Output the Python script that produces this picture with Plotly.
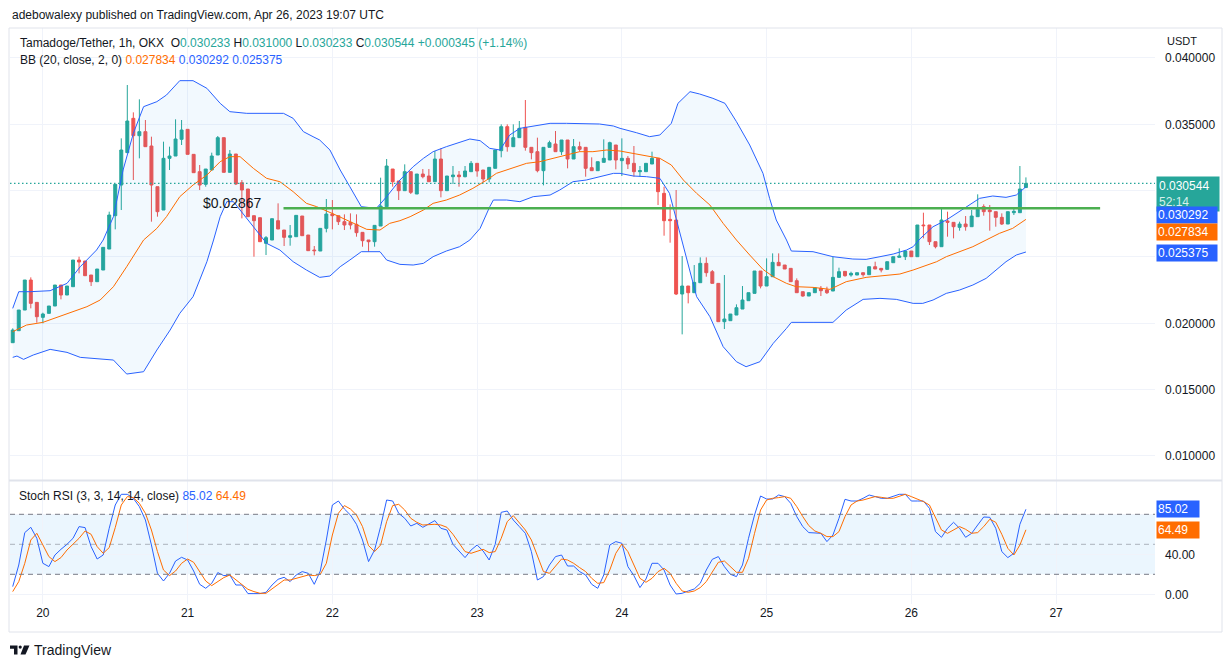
import plotly.graph_objects as go
from datetime import datetime, timedelta

# ---------------- DATA ----------------
open_ = [
    0.018539, 0.019443, 0.021001, 0.023263, 0.021579, 0.020449, 0.020750, 0.021303, 0.022886, 0.022132,
    0.022760, 0.024771, 0.024696, 0.023640, 0.023137, 0.024017, 0.025600, 0.028113, 0.030425, 0.032863,
    0.035451, 0.034144, 0.034446, 0.033365, 0.030299, 0.028540, 0.032436, 0.032611, 0.033868, 0.034622,
    0.032737, 0.031430, 0.030475, 0.031556, 0.032687, 0.033994, 0.031380, 0.032762, 0.030601, 0.030124,
    0.028113, 0.027962, 0.026027, 0.026279, 0.027736, 0.027033, 0.026480, 0.026530, 0.028088, 0.026656,
    0.025525, 0.025449, 0.027158, 0.028239, 0.028113, 0.027661, 0.027611, 0.027460, 0.026857, 0.026279,
    0.026153, 0.027334, 0.028792, 0.031631, 0.030727, 0.029998, 0.031430, 0.029747, 0.031254, 0.031104,
    0.030676, 0.032385, 0.029998, 0.031053, 0.031179, 0.031053, 0.031430, 0.032059, 0.031556, 0.030877,
    0.031682, 0.033014, 0.034823, 0.033315, 0.033994, 0.034773, 0.033265, 0.032938, 0.031506, 0.033265,
    0.033516, 0.032938, 0.033818, 0.032385, 0.033315, 0.033265, 0.031732, 0.031506, 0.032134, 0.032310,
    0.033441, 0.032260, 0.032436, 0.032059, 0.031430, 0.031430, 0.032008, 0.032436, 0.029797, 0.027837,
    0.027786, 0.022208, 0.022811, 0.022308, 0.023062, 0.024520, 0.023891, 0.023012, 0.020122, 0.020197,
    0.020624, 0.021077, 0.021705, 0.022258, 0.023942, 0.022811, 0.023514, 0.024595, 0.024394, 0.024143,
    0.023213, 0.022384, 0.022057, 0.022308, 0.022635, 0.022509, 0.022434, 0.023464, 0.023916, 0.023640,
    0.023640, 0.023816, 0.023665, 0.024268, 0.024143, 0.024067, 0.024570, 0.024972, 0.025022, 0.025449,
    0.025022, 0.027410, 0.027410, 0.026153, 0.025776, 0.027711, 0.027611, 0.027234, 0.027485, 0.027284,
    0.028038, 0.028792, 0.028540, 0.028415, 0.027988, 0.027485, 0.028339, 0.028339, 0.030233,
]
high = [
    0.019619, 0.021001, 0.023263, 0.023464, 0.021579, 0.020800, 0.021303, 0.022886, 0.022886, 0.022811,
    0.024771, 0.025022, 0.024696, 0.023640, 0.024092, 0.025726, 0.028415, 0.030475, 0.033943, 0.037964,
    0.035903, 0.036884, 0.035325, 0.034069, 0.030299, 0.033692, 0.033315, 0.035376, 0.035325, 0.034622,
    0.032737, 0.031933, 0.031631, 0.032863, 0.034119, 0.033994, 0.033064, 0.032762, 0.030802, 0.030124,
    0.028113, 0.027962, 0.026580, 0.027887, 0.029043, 0.027033, 0.027410, 0.028138, 0.028088, 0.026656,
    0.025826, 0.027158, 0.029370, 0.029294, 0.028113, 0.028214, 0.028289, 0.028214, 0.026857, 0.026279,
    0.027384, 0.030978, 0.032385, 0.031631, 0.030727, 0.031983, 0.031430, 0.031254, 0.031631, 0.031631,
    0.032988, 0.033189, 0.031104, 0.031858, 0.031481, 0.031858, 0.032235, 0.032059, 0.031556, 0.031757,
    0.033064, 0.034999, 0.034999, 0.034999, 0.035250, 0.036833, 0.033265, 0.033994, 0.033265, 0.033767,
    0.034496, 0.033818, 0.033818, 0.033893, 0.033692, 0.033265, 0.032511, 0.032184, 0.033868, 0.033692,
    0.033441, 0.033943, 0.032611, 0.033365, 0.031858, 0.032059, 0.032938, 0.032436, 0.030299, 0.028968,
    0.030048, 0.025072, 0.022811, 0.024394, 0.024972, 0.024972, 0.024017, 0.023012, 0.023640, 0.020700,
    0.021429, 0.022811, 0.022308, 0.023942, 0.023942, 0.024897, 0.025273, 0.025273, 0.024394, 0.024143,
    0.023389, 0.022384, 0.022308, 0.022685, 0.022811, 0.022760, 0.025022, 0.024193, 0.023916, 0.023891,
    0.023816, 0.023816, 0.024268, 0.024645, 0.024143, 0.024645, 0.025022, 0.025650, 0.025449, 0.025449,
    0.027410, 0.028339, 0.027410, 0.026153, 0.028666, 0.028415, 0.027611, 0.027661, 0.028088, 0.028540,
    0.029722, 0.028968, 0.028917, 0.028415, 0.028289, 0.028415, 0.028666, 0.031858, 0.031000,
]
low = [
    0.018539, 0.019443, 0.021001, 0.021127, 0.020046, 0.019996, 0.020750, 0.021303, 0.021806, 0.022132,
    0.022760, 0.023766, 0.023590, 0.022811, 0.023137, 0.024017, 0.025600, 0.027083, 0.028540, 0.032863,
    0.030802, 0.032436, 0.033315, 0.027661, 0.028038, 0.028540, 0.031556, 0.032611, 0.033441, 0.032737,
    0.031355, 0.030048, 0.030299, 0.031556, 0.032687, 0.031380, 0.031380, 0.030425, 0.027912, 0.028038,
    0.025022, 0.026153, 0.025148, 0.026279, 0.027108, 0.025826, 0.025851, 0.026530, 0.026605, 0.025475,
    0.025123, 0.025449, 0.026857, 0.027083, 0.027410, 0.027033, 0.027083, 0.026530, 0.025776, 0.025399,
    0.025776, 0.027334, 0.028666, 0.030299, 0.029294, 0.029998, 0.029747, 0.029747, 0.030928, 0.030676,
    0.030676, 0.029495, 0.029998, 0.030501, 0.030299, 0.031003, 0.031430, 0.031053, 0.030626, 0.030626,
    0.031682, 0.032511, 0.032938, 0.033315, 0.033994, 0.033014, 0.032360, 0.031380, 0.030400, 0.033265,
    0.032938, 0.032687, 0.031682, 0.032385, 0.032938, 0.031053, 0.031506, 0.031506, 0.032134, 0.032310,
    0.031606, 0.031104, 0.031631, 0.031053, 0.031053, 0.031430, 0.032008, 0.028917, 0.026605, 0.026078,
    0.022132, 0.019167, 0.021504, 0.022308, 0.023062, 0.023514, 0.023012, 0.020122, 0.019569, 0.020197,
    0.020624, 0.021077, 0.021705, 0.022258, 0.022635, 0.022811, 0.023514, 0.024344, 0.024092, 0.023137,
    0.022308, 0.022007, 0.022057, 0.022308, 0.022057, 0.022208, 0.022434, 0.023464, 0.023514, 0.023514,
    0.023640, 0.023514, 0.023665, 0.024092, 0.023841, 0.024067, 0.024570, 0.024972, 0.024771, 0.025022,
    0.025022, 0.026404, 0.025902, 0.025650, 0.025776, 0.026530, 0.026404, 0.026982, 0.026982, 0.027284,
    0.028038, 0.028113, 0.026982, 0.027284, 0.027410, 0.027485, 0.028163, 0.028339, 0.030233,
]
close = [
    0.019494, 0.021001, 0.023263, 0.021504, 0.020499, 0.020700, 0.021303, 0.022886, 0.022132, 0.022811,
    0.024771, 0.024620, 0.023590, 0.023137, 0.024092, 0.025726, 0.028163, 0.030475, 0.033064, 0.035250,
    0.034144, 0.034446, 0.033315, 0.030425, 0.028415, 0.032436, 0.032611, 0.033893, 0.034572, 0.032737,
    0.031355, 0.030425, 0.031631, 0.032611, 0.033994, 0.031380, 0.032762, 0.030501, 0.030048, 0.028038,
    0.027736, 0.026153, 0.026455, 0.027887, 0.027108, 0.026480, 0.026605, 0.028138, 0.026605, 0.025475,
    0.025475, 0.027158, 0.028239, 0.028113, 0.027661, 0.027410, 0.027410, 0.026832, 0.026228, 0.026153,
    0.027384, 0.028842, 0.031858, 0.030676, 0.029998, 0.031430, 0.029872, 0.031254, 0.031053, 0.030676,
    0.032385, 0.029998, 0.031104, 0.031179, 0.031053, 0.031481, 0.032059, 0.031481, 0.030877, 0.031757,
    0.033064, 0.034823, 0.033315, 0.033994, 0.034697, 0.033265, 0.032863, 0.031506, 0.033265, 0.033617,
    0.032938, 0.033818, 0.032385, 0.033315, 0.033114, 0.031682, 0.031506, 0.032184, 0.032436, 0.033617,
    0.032310, 0.032436, 0.032008, 0.031430, 0.031506, 0.032059, 0.032436, 0.029923, 0.027736, 0.027736,
    0.022208, 0.022811, 0.022308, 0.023087, 0.024520, 0.023816, 0.023012, 0.020122, 0.020323, 0.020700,
    0.021177, 0.021755, 0.022308, 0.023942, 0.022811, 0.023514, 0.024595, 0.024344, 0.024092, 0.023137,
    0.022308, 0.022057, 0.022308, 0.022685, 0.022459, 0.022308, 0.023464, 0.023891, 0.023590, 0.023766,
    0.023816, 0.023665, 0.024268, 0.024092, 0.024017, 0.024645, 0.025022, 0.025072, 0.025449, 0.025022,
    0.027410, 0.027359, 0.026153, 0.025776, 0.027786, 0.027611, 0.027284, 0.027485, 0.027284, 0.028088,
    0.028591, 0.028415, 0.028415, 0.027988, 0.027485, 0.028415, 0.028440, 0.030124, 0.030544,
]

# Bollinger bands (hours after first candle, value)
bb_upper_h = [0, 1.0, 2.9, 6.2, 9.0, 11.2, 13.9, 15.0, 16.7, 18.3, 20.0, 21.7, 23.9, 25.5, 27.7, 29.9,
              32.2, 34.4, 36.0, 38.8, 41.5, 44.9, 46.5, 48.2, 49.8, 50.9, 52.6, 54.3, 55.9, 57.8, 60.3,
              62.0, 64.2, 66.4, 68.1, 69.7, 71.9, 74.1, 75.8, 77.5, 79.1, 80.8, 82.4, 84.1, 86.3, 89.1,
              91.8, 94.6, 97.3, 99.6, 100.7, 103.4, 105.6, 107.3, 109.2, 110.3, 112.3, 113.9, 116.1,
              118.1, 120.0, 122.2, 124.4, 125.5, 126.6, 128.3, 129.1, 132.7, 136.0, 139.3, 141.5, 143.8,
              146.0, 148.2, 149.3, 150.4, 152.6, 154.8, 157.0, 159.2, 160.3, 162.5, 164.7, 166.4, 168]
bb_upper = [0.021127, 0.022384, 0.022384, 0.022459, 0.023012, 0.024268, 0.025525, 0.026279, 0.028038,
            0.031556, 0.034320, 0.036331, 0.036708, 0.037210, 0.038291, 0.038291, 0.037713, 0.036582,
            0.035954, 0.035828, 0.035828, 0.035828, 0.035451, 0.034446, 0.034069, 0.033818, 0.033064,
            0.031556, 0.030299, 0.028792, 0.028666, 0.029546, 0.030802, 0.031807, 0.032436, 0.032938,
            0.033315, 0.033617, 0.033893, 0.033767, 0.033189, 0.033064, 0.034195, 0.034697, 0.034873,
            0.035074, 0.035074, 0.035024, 0.035024, 0.034873, 0.034697, 0.034371, 0.034069, 0.034195,
            0.035074, 0.036582, 0.037462, 0.037286, 0.036959, 0.036582, 0.035200, 0.033441, 0.031305,
            0.029420, 0.027786, 0.026279, 0.025449, 0.025399, 0.025022, 0.024846, 0.024821, 0.025022,
            0.025223, 0.025525, 0.025776, 0.026354, 0.027284, 0.027786, 0.028415, 0.029043, 0.029420,
            0.029596, 0.029495, 0.029671, 0.030292]
bb_mid_h = [0, 2.3, 5.0, 9.0, 12.3, 14.5, 16.7, 18.9, 21.7, 23.9, 25.5, 27.7, 29.9, 32.2, 34.4, 36.0,
            37.7, 39.9, 42.1, 44.3, 46.5, 48.7, 50.4, 53.2, 55.9, 58.7, 60.9, 62.5, 64.2, 65.9, 68.1,
            69.7, 71.9, 74.1, 76.3, 78.6, 80.2, 81.9, 83.5, 85.2, 87.4, 89.6, 91.8, 94.0, 96.2, 98.5,
            100.7, 102.9, 105.1, 107.3, 109.2, 111.2, 113.4, 115.6, 117.8, 120.0, 122.2, 124.4, 126.1,
            128.3, 129.9, 132.7, 135.5, 138.2, 141.5, 144.9, 147.1, 149.3, 150.9, 153.2, 154.8, 157.0,
            159.2, 161.4, 163.6, 165.8, 168]
bb_mid = [0.019368, 0.019871, 0.020072, 0.020750, 0.021253, 0.021755, 0.022760, 0.024268, 0.026279,
          0.027158, 0.028038, 0.029546, 0.030425, 0.031179, 0.032184, 0.032561, 0.032561, 0.031682,
          0.030928, 0.030676, 0.029923, 0.029043, 0.028792, 0.028239, 0.027661, 0.027083, 0.027033,
          0.027535, 0.027736, 0.028038, 0.028540, 0.029043, 0.029294, 0.029671, 0.030174, 0.030802,
          0.031305, 0.031556, 0.031757, 0.032059, 0.032184, 0.032436, 0.032687, 0.032938, 0.032938,
          0.033064, 0.032988, 0.032812, 0.032611, 0.032436, 0.031933, 0.030802, 0.029797, 0.028917,
          0.027535, 0.026279, 0.025148, 0.024067, 0.023514, 0.023012, 0.022760, 0.022710, 0.022559,
          0.023137, 0.023464, 0.023590, 0.023715, 0.024017, 0.024268, 0.024645, 0.025022, 0.025399,
          0.025776, 0.026279, 0.026781, 0.027158, 0.027834]
bb_lower_h = [0, 0.7, 1.8, 3.4, 6.2, 9.0, 11.2, 14.5, 16.7, 18.9, 21.7, 23.9, 26.1, 27.7, 29.9, 31.0,
              32.2, 33.3, 34.4, 35.5, 36.6, 37.7, 39.9, 42.1, 44.3, 46.5, 48.7, 50.9, 52.6, 54.3, 55.9,
              57.8, 60.9, 62.0, 64.2, 66.4, 68.1, 69.7, 71.9, 74.1, 75.8, 77.5, 79.1, 79.7, 81.9, 84.1,
              86.3, 89.1, 90.7, 92.9, 95.1, 97.3, 99.6, 100.7, 102.9, 105.1, 107.3, 108.9, 111.7, 113.4,
              115.6, 117.8, 120.0, 121.6, 123.9, 126.1, 128.3, 129.1, 132.7, 136.0, 138.2, 141.0, 143.8,
              146.5, 149.3, 150.9, 152.6, 154.8, 157.0, 159.2, 161.4, 163.1, 164.7, 166.4, 168]
bb_lower = [0.017433, 0.017533, 0.017282, 0.017609, 0.018036, 0.017810, 0.017433, 0.017282, 0.017232,
            0.016176, 0.016352, 0.017986, 0.019494, 0.020750, 0.022007, 0.023263, 0.024645, 0.026279,
            0.028038, 0.029169, 0.029169, 0.028540, 0.027284, 0.026027, 0.025525, 0.024645, 0.024017,
            0.023464, 0.023565, 0.024268, 0.024771, 0.025399, 0.025399, 0.024771, 0.024444, 0.024394,
            0.024520, 0.025022, 0.025449, 0.025776, 0.026279, 0.027158, 0.028792, 0.029294, 0.029294,
            0.029169, 0.029546, 0.029671, 0.030048, 0.030676, 0.030802, 0.031053, 0.031304, 0.031304,
            0.031104, 0.031053, 0.030928, 0.029797, 0.025022, 0.022007, 0.020499, 0.018237, 0.017106,
            0.016729, 0.017106, 0.018488, 0.019619, 0.020072, 0.020072, 0.020072, 0.021001, 0.021806,
            0.021881, 0.021806, 0.021504, 0.021504, 0.021755, 0.022258, 0.022509, 0.022886, 0.023389,
            0.024017, 0.024645, 0.025148, 0.025375]

# Stoch RSI (one value per candle)
stoch_k = [7.7, 29.3, 61.7, 67, 56, 31, 27.7, 39.3, 45, 50,
           56, 67.7, 66.7, 47.7, 35.3, 39.3, 66, 89.3, 100, 100,
           96, 87.7, 74.3, 49.3, 21, 13.3, 21, 33.3, 37, 34.3,
           23.3, 10, 6, 11, 21.7, 18.7, 19.3, 9.3, 9.3, 0.7,
           0.7, 0.7, 2, 9.3, 15, 17, 12.7, 19.3, 22.7, 21,
           10, 23.3, 54.3, 89.3, 93.3, 85.3, 79.3, 70, 54.3, 32.7,
           44.3, 67.7, 94.3, 93.3, 81, 76, 68.3, 71, 67, 70,
           73.7, 66, 64.3, 50, 43.7, 36.7, 44.3, 49.3, 43.3, 34.3,
           50, 82, 83.3, 74.3, 67.7, 61, 42.7, 14.3, 17.7, 29.3,
           37.7, 39.3, 28.3, 28.3, 22.7, 19.3, 10, 6, 19.3, 49.3,
           52.7, 51, 27.7, 18.7, 6.7, 15.3, 31, 31, 24.3, 9.3,
           0.3, 1, 3.3, 5.3, 11, 24.3, 35, 37.7, 27.7, 20,
           17.7, 29.3, 56, 79.3, 98.3, 95.3, 95.3, 99.3, 97.7, 91,
           77.7, 67.7, 61.7, 61.7, 61, 52.7, 59.3, 76, 95, 93.3,
           93.3, 96, 99.3, 97.7, 96, 96, 98.3, 100, 100, 93.3,
           93.3, 93.3, 86, 62.7, 57, 66, 72, 66, 57, 61,
           69.3, 77.3, 77, 66, 42.7, 36.7, 41, 70, 85.02]
stoch_d = [2.7, 12.7, 31, 54.3, 61, 49.3, 37.7, 32.7, 36.7, 44.3,
           50, 56, 63.3, 60, 47.7, 41, 46.7, 66.7, 89.3, 97.7,
           96.7, 91, 81, 64.3, 42.7, 24.3, 18.7, 23.3, 31, 35.3,
           32, 23.3, 13.3, 8.7, 12.7, 16.7, 19.3, 14.3, 10, 5,
           2.7, 1, 1, 5.3, 10, 14.3, 14.3, 16, 17.7, 19.3,
           18.7, 20, 31, 59.3, 81, 88.7, 85.3, 79.3, 67.7, 48.7,
           42.7, 49.3, 72.7, 88.7, 90, 84.3, 76, 72, 69.3, 70,
           70, 69.3, 67, 60, 51, 42.7, 41, 42.7, 45, 41.7,
           42.7, 56, 72.7, 78.7, 71, 64.3, 54.3, 39.3, 22.7, 21,
           28.3, 35.3, 34.3, 31, 26.7, 22.7, 16, 11, 11.7, 24.3,
           41, 50.3, 42.7, 29.3, 16, 12, 16, 22.7, 26, 21,
           11, 3.3, 2, 3.3, 6.7, 12.7, 22.7, 32, 33.3, 27.7,
           22, 22, 36, 61, 84.3, 94.3, 96, 96.7, 97.7, 96,
           87.7, 77.7, 68.7, 63.3, 61, 57.7, 57.7, 62.7, 77.7, 89.3,
           93.3, 94.3, 96, 97.7, 97, 96, 96, 97.7, 100, 97.7,
           95.3, 92.7, 89.3, 76, 64.3, 61, 64.3, 67.7, 65, 61,
           61.7, 67.7, 75, 72, 60, 46, 39.3, 49.3, 64.49]

support_level = 0.02867
price_ticks = [0.010, 0.015, 0.020, 0.025, 0.030, 0.035, 0.040]
price_ticktext = ["0.010000", "0.015000", "0.020000", "", "", "0.035000", "0.040000"]
stoch_ticks = [0, 40, 80]
stoch_ticktext = ["0.00", "40.00", ""]
day_labels = ["20", "21", "22", "23", "24", "25", "26", "27"]

# ---------------- FIGURE ----------------
UP, DOWN = "#26a69a", "#ef5350"
BLUE, ORANGE = "#2962ff", "#ff6d00"
TXT = "#131722"
FONT = "Liberation Sans"

START = datetime(2023, 4, 19, 19, 0)
def t(h):
    return START + timedelta(hours=h)

times = [t(i) for i in range(len(open_))]
day_ticks = [datetime(2023, 4, 20 + i) for i in range(len(day_labels))]

# page body has an 8px margin: lay the figure out in page pixels minus that offset
OFF = 8
W, H = 1232 - 2 * OFF, 668 - 2 * OFF
L, R, T, B = 10, 1155, 28, 632          # plot area in page pixels
def px(x):
    return (x - L) / (R - L)
def py(y):
    return (B - y) / (B - T)

X0, X1 = t(-0.45), t(189.4)

fig = go.Figure()

fig.add_trace(go.Scatter(
    x=[t(h) for h in bb_upper_h] + [t(h) for h in reversed(bb_lower_h)],
    y=bb_upper + list(reversed(bb_lower)),
    fill="toself", fillcolor="rgba(33,150,243,0.06)", line=dict(width=0),
    mode="lines", hoverinfo="skip", showlegend=False))
fig.add_trace(go.Scatter(x=[t(h) for h in bb_upper_h], y=bb_upper, mode="lines",
                         line=dict(color=BLUE, width=1), showlegend=False, hoverinfo="skip"))
fig.add_trace(go.Scatter(x=[t(h) for h in bb_lower_h], y=bb_lower, mode="lines",
                         line=dict(color=BLUE, width=1), showlegend=False, hoverinfo="skip"))
fig.add_trace(go.Scatter(x=[t(h) for h in bb_mid_h], y=bb_mid, mode="lines",
                         line=dict(color=ORANGE, width=1), showlegend=False, hoverinfo="skip"))

fig.add_trace(go.Candlestick(
    x=times, open=open_, high=high, low=low, close=close,
    increasing=dict(line=dict(color=UP, width=1), fillcolor=UP),
    decreasing=dict(line=dict(color=DOWN, width=1), fillcolor=DOWN),
    whiskerwidth=0, showlegend=False, hoverinfo="skip"))

fig.add_trace(go.Scatter(x=times, y=stoch_k, mode="lines", line=dict(color=BLUE, width=1),
                         xaxis="x2", yaxis="y2", showlegend=False, hoverinfo="skip"))
fig.add_trace(go.Scatter(x=times, y=stoch_d, mode="lines", line=dict(color=ORANGE, width=1),
                         xaxis="x2", yaxis="y2", showlegend=False, hoverinfo="skip"))

shapes = []
shapes.append(dict(type="rect", xref="paper", yref="y2", x0=0, x1=1, y0=20, y1=80,
                   fillcolor="rgba(33,150,243,0.09)", line=dict(width=0), layer="below"))
for lvl, col in [(80, "#787b86"), (50, "rgba(120,123,134,0.55)"), (20, "#787b86")]:
    shapes.append(dict(type="line", xref="paper", yref="y2", x0=0, x1=1, y0=lvl, y1=lvl,
                       line=dict(color=col, width=1, dash="5px,4px")))
shapes.append(dict(type="line", xref="paper", yref="y", x0=0, x1=1, y0=close[-1], y1=close[-1],
                   line=dict(color=UP, width=1.2, dash="1.5px,2.5px")))
shapes.append(dict(type="line", xref="x", yref="y", x0=t(44.9), x1=t(180.3),
                   y0=support_level, y1=support_level, line=dict(color="#4caf50", width=2.5)))
shapes.append(dict(type="rect", xref="paper", yref="paper", x0=px(9), x1=px(1222), y0=0, y1=1,
                   line=dict(color="#e0e3eb", width=1), fillcolor="rgba(0,0,0,0)"))
shapes.append(dict(type="line", xref="paper", yref="paper", x0=px(9), x1=px(1222),
                   y0=py(480.5), y1=py(480.5), line=dict(color="#e0e3eb", width=2)))
def P(x, y):
    return f"{px(x):.5f},{py(y):.5f}"
shapes.append(dict(type="path", xref="paper", yref="paper",
                   path=f"M{P(10,645.5)} L{P(17.5,645.5)} L{P(17.5,654.5)} L{P(14,654.5)} L{P(14,648.7)} L{P(10,648.7)} Z",
                   fillcolor=TXT, line=dict(width=0)))
shapes.append(dict(type="circle", xref="paper", yref="paper", x0=px(18.6), x1=px(21.8),
                   y0=py(648.7), y1=py(645.5), fillcolor=TXT, line=dict(width=0)))
shapes.append(dict(type="path", xref="paper", yref="paper",
                   path=f"M{P(24,645.5)} L{P(29.5,645.5)} L{P(25.5,654.5)} L{P(20.5,654.5)} Z",
                   fillcolor=TXT, line=dict(width=0)))

def span(txt, col):
    return f"<span style='color:{col}'>{txt}</span>"

sp = "&nbsp;"
line1 = (span("Tamadoge/Tether, 1h, OKX", TXT) + sp + " " +
         span("O", TXT) + span(f"{open_[-1]:.6f}", UP) + sp +
         span("H", TXT) + span(f"{high[-1]:.6f}", UP) + sp +
         span("L", TXT) + span(f"{low[-1]:.6f}", UP) + sp +
         span("C", TXT) + span(f"{close[-1]:.6f}", UP) + sp +
         span("+0.000345 (+1.14%)", UP))
line2 = (span("BB (20, close, 2, 0)", TXT) + sp + span(f"{bb_mid[-1]:.6f}", ORANGE) + sp +
         span(f"{bb_upper[-1]:.6f}", BLUE) + sp + span(f"{bb_lower[-1]:.6f}", BLUE))
line3 = (span("Stoch RSI (3, 3, 14, 14, close)", TXT) + sp + span(f"{stoch_k[-1]:.2f}", BLUE) + sp +
         span(f"{stoch_d[-1]:.2f}", ORANGE))

ann = []
def A(text, x, y, size=12, color=TXT, xanchor="left", yanchor="middle", **kw):
    d = dict(text=text, xref="paper", yref="paper", x=x, y=y, showarrow=False,
             xanchor=xanchor, yanchor=yanchor, font=dict(family=FONT, size=size, color=color))
    d.update(kw)
    ann.append(d)

A("adebowalexy published on TradingView.com, Apr 26, 2023 19:07 UTC", px(10), py(15), size=12, color=TXT)
A(line1, px(18), py(43), size=12)
A(line2, px(18), py(60), size=12)
A(line3, px(17), py(496), size=12)
A("USDT", px(1165), py(41), size=11)
A("TradingView", px(32), py(650), size=14, color=TXT)

A(f"{close[-1]:.6f}<br><span style='color:#d8f0ec'>52:14</span>", px(1156), py(176), color="white",
  yanchor="top", bgcolor=UP, borderpad=2, width=58, align="left")
A(f"{bb_upper[-1]:.6f}", px(1156), py(215), color="white", bgcolor=BLUE, borderpad=1, width=58, align="left")
A(f"{bb_mid[-1]:.6f}", px(1156), py(232), color="white", bgcolor=ORANGE, borderpad=1, width=58, align="left")
A(f"{bb_lower[-1]:.6f}", px(1156), py(252.5), color="white", bgcolor=BLUE, borderpad=1, width=58, align="left")
A(f"{stoch_k[-1]:.2f}", px(1156), py(508.5), color="white", bgcolor=BLUE, borderpad=1, width=40, align="left")
A(f"{stoch_d[-1]:.2f}", px(1156), py(529.5), color="white", bgcolor=ORANGE, borderpad=1, width=40, align="left")

ann.append(dict(text="$0.02867", xref="x", yref="y", x=t(36.5), y=0.02907, showarrow=False,
                xanchor="center", yanchor="middle", font=dict(family=FONT, size=14, color=TXT)))

grid = "#f0f3fa"
fig.update_layout(
    width=W, height=H,
    margin=dict(l=L - OFF, r=W - (R - OFF), t=T - OFF, b=H - (B - OFF)),
    paper_bgcolor="white", plot_bgcolor="white",
    showlegend=False, hovermode=False,
    shapes=shapes, annotations=ann,
    xaxis=dict(domain=[0, 1], anchor="y", range=[X0, X1], tickvals=day_ticks, showticklabels=False,
               showgrid=True, gridcolor=grid, zeroline=False, showline=False, ticks="",
               rangeslider=dict(visible=False)),
    xaxis2=dict(domain=[0, 1], anchor="y2", range=[X0, X1], tickvals=day_ticks, ticktext=day_labels,
                showgrid=True, gridcolor=grid, zeroline=False, showline=False, ticks="",
                tickfont=dict(family=FONT, size=12, color=TXT)),
    yaxis=dict(domain=[py(480), 1], anchor="x", side="right", range=[0.008189, 0.042261],
               tickvals=price_ticks, ticktext=price_ticktext, showgrid=True, gridcolor=grid,
               zeroline=False, showline=False, ticks="", ticklabelstandoff=9,
               tickfont=dict(family=FONT, size=12, color=TXT)),
    yaxis2=dict(domain=[py(604), py(481)], anchor="x2", side="right", range=[-9.7, 113.3],
                tickvals=stoch_ticks, ticktext=stoch_ticktext, showgrid=True, gridcolor=grid,
                zeroline=False, showline=False, ticks="", ticklabelstandoff=9,
                tickfont=dict(family=FONT, size=12, color=TXT)),
)

fig.write_html("out.html")
